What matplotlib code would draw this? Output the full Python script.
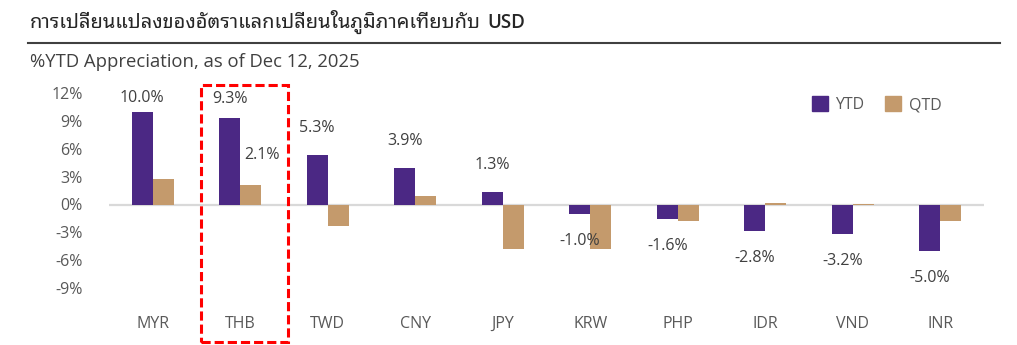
import matplotlib
matplotlib.use("Agg")
import matplotlib.pyplot as plt
import numpy as np
from matplotlib.lines import Line2D
from matplotlib.patches import Patch, Rectangle

currencies = ["MYR", "THB", "TWD", "CNY", "JPY", "KRW", "PHP", "IDR", "VND", "INR"]
ytd = [10.0, 9.3, 5.3, 3.9, 1.3, -1.0, -1.6, -2.8, -3.2, -5.0]
qtd = [2.7, 2.1, -2.3, 0.9, -4.8, -4.8, -1.8, 0.2, 0.1, -1.8]
y_ticks = [-9, -6, -3, 0, 3, 6, 9, 12]

PURPLE = "#4B2884"
TAN = "#C49A6C"

plt.rcParams["font.family"] = ["Open Sans", "Noto Sans Thai Looped"]

W, H = 1017, 345
fig = plt.figure(figsize=(W / 100, H / 100), dpi=100)
ax = fig.add_axes([109 / W, 1 - 316 / H, 875 / W, 223 / H])

x = np.arange(len(currencies))
bw = 0.24
ax.bar(x - bw / 2, ytd, bw, color=PURPLE, zorder=2)
ax.bar(x + bw / 2, qtd, bw, color=TAN, zorder=2)
ax.axhline(0, color="#D9D9D9", lw=1.6, zorder=1)

ax.set_xlim(-0.5, len(currencies) - 0.5)
ax.set_ylim(-12, 12)
ax.set_yticks(y_ticks)
ax.set_yticklabels([f"{t}%" for t in y_ticks])
ax.set_xticks(x)
ax.set_xticklabels(currencies)
ax.tick_params(axis="both", length=0, labelsize=11.5, labelcolor="#595959")
ax.tick_params(axis="y", pad=19)
ax.tick_params(axis="x", pad=0)
for s in ax.spines.values():
    s.set_visible(False)

# YTD value labels; the two tallest sit a bit closer to the bar top
offsets = {0: 9.5, 1: 14}
for i, v in enumerate(ytd):
    off = offsets.get(i, 19.5)
    ax.annotate(f"{v:.1f}%", (x[i] - bw / 2, v), xytext=(0, off if v >= 0 else -off),
                textcoords="offset points", ha="center", va="center",
                fontsize=11.5, color="#404040")

# QTD label shown only for THB
ax.annotate(f"{qtd[1]:.1f}%", (x[1] + bw / 2, qtd[1]), xytext=(8, 21.5),
            textcoords="offset points", ha="center", va="center",
            fontsize=11.5, color="#404040")

handles = [Patch(color=PURPLE, label="YTD"), Patch(color=TAN, label="QTD")]
ax.legend(handles=handles, loc="upper left", bbox_to_anchor=(806 / W, 1 - 90 / H),
          bbox_transform=fig.transFigure, ncol=2, frameon=False, borderaxespad=0,
          handlelength=1.0, handleheight=1.0, handletextpad=0.45, columnspacing=1.3,
          prop={"size": 11.5}, labelcolor="#595959")

# title: Thai part then "USD" right after it
title_th = fig.text(30 / W, 1 - 22 / H, "การเปลี่ยนแปลงของอัตราแลกเปลี่ยนในภูมิภาคเทียบกับ",
                    ha="left", va="center", fontsize=14.4, fontweight="medium",
                    family="Noto Sans Thai Looped", color="#262626")
renderer = fig.canvas.get_renderer()
bb = title_th.get_window_extent(renderer)
fig.text((bb.x1 + 6) / W, 1 - 23 / H, "USD", ha="left", va="center", fontsize=13.5,
         fontweight="semibold", color="#262626")

fig.add_artist(Line2D([28 / W, 1000 / W], [1 - 43 / H] * 2, transform=fig.transFigure,
                      color="#404040", lw=1.5))
fig.text(30 / W, 1 - 62 / H, "%YTD Appreciation, as of Dec 12, 2025",
         ha="left", va="center", fontsize=13.3, color="#404040")

# dashed highlight around THB
fig.add_artist(Rectangle((201 / W, 1 - 342 / H), 87 / W, 257 / H, transform=fig.transFigure,
                         fill=False, edgecolor="#FF0000", lw=2.2, linestyle=(0, (3, 1.3))))

fig.savefig("out.png", dpi=100)
